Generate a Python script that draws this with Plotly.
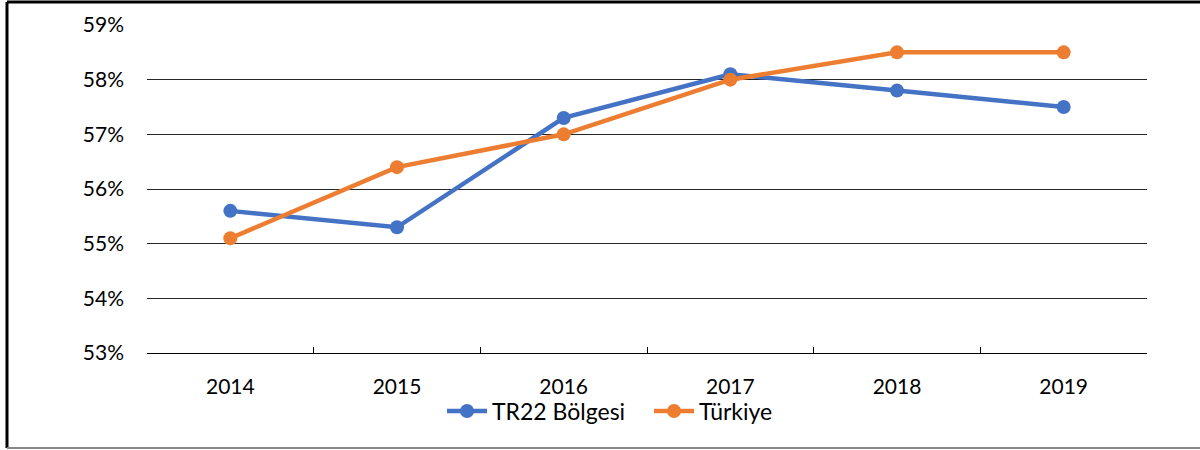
import plotly.graph_objects as go

years = ["2014", "2015", "2016", "2017", "2018", "2019"]
tr22 = [0.556, 0.553, 0.573, 0.581, 0.578, 0.575]
turkiye = [0.551, 0.564, 0.570, 0.580, 0.585, 0.585]

FONT = "Lato"

fig = go.Figure()
fig.add_trace(go.Scatter(
    x=years, y=tr22, name="TR22 Bölgesi", mode="lines+markers",
    line=dict(color="#4472C4", width=4.5),
    marker=dict(color="#4472C4", size=14),
))
fig.add_trace(go.Scatter(
    x=years, y=turkiye, name="Türkiye", mode="lines+markers",
    line=dict(color="#ED7D31", width=4.5),
    marker=dict(color="#ED7D31", size=14),
))

fig.update_layout(
    width=1200, height=450,
    margin=dict(l=147, r=53, t=25, b=97),
    paper_bgcolor="white", plot_bgcolor="white",
    font=dict(family=FONT, size=21, color="black"),
    showlegend=True,
    legend=dict(orientation="h", x=0.295, xanchor="left", y=-0.177, yanchor="middle",
                font=dict(size=23), itemwidth=40, entrywidth=152, tracegroupgap=0,
                bgcolor="rgba(0,0,0,0)"),
    xaxis=dict(type="category", tickson="boundaries", ticks="inside", ticklen=6,
               tickcolor="black", tickwidth=1, showgrid=False, showline=True,
               linecolor="black", linewidth=1.2, ticklabelstandoff=15,
               range=[-0.5, 5.5]),
    yaxis=dict(range=[0.53, 0.59], dtick=0.01, tickformat=".0%", showgrid=True,
               gridcolor="#262626", gridwidth=1, zeroline=False, showline=False,
               ticks="", ticklabelstandoff=22),
    shapes=[
        dict(type="line", xref="paper", yref="paper", x0=-0.14, x1=-0.14, y0=-0.2896, y1=1.07,
             line=dict(color="black", width=3)),
        dict(type="line", xref="paper", yref="paper", x0=-0.14, x1=1.06, y0=1.07, y1=1.07,
             line=dict(color="black", width=3)),
        dict(type="line", xref="paper", yref="paper", x0=-0.14, x1=1.06, y0=-0.2896, y1=-0.2896,
             line=dict(color="#888888", width=2)),
    ],
)

fig.write_html(
    "out.html",
    config={"displayModeBar": False},
    post_script="document.body.style.margin='0';document.body.style.overflow='hidden';",
)
